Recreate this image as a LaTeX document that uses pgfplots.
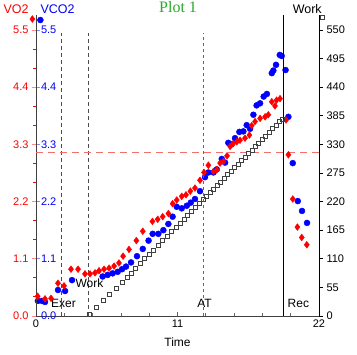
\documentclass[border=0pt]{standalone}
\usepackage{pgfplots}
\pgfplotsset{compat=1.18}
\usepackage{fontspec}
\setmainfont{Liberation Sans}
\newfontfamily\seriffont{Liberation Serif}
\definecolor{atgreen}{RGB}{40,150,20}
\definecolor{titlegreen}{RGB}{40,170,40}
\definecolor{hred}{RGB}{245,110,110}
\begin{document}
\begin{tikzpicture}
\pgfplotsset{
  base/.style={at={(0pt,0pt)}, anchor=south west, x=12.8636pt, xmin=0, xmax=22,
    clip=false, /pgf/number format/assume math mode=true,
    tick label style={font=\fontsize{11}{13}\selectfont},
    major tick length=4pt, minor tick length=3pt,
    legend plot pos=left},
}
% x axis, blue labels, VCO2
\begin{axis}[base, y=52pt, ymin=0, ymax=5.78,
  axis x line=bottom, axis y line=left,
  axis line style={-, draw=black!75, line width=0.7pt},
  xtick={0,11,22}, xticklabels={0,11,22}, minor x tick num=4,
  ytick={0,1.1,2.2,3.3,4.4,5.5}, yticklabels={0.0,1.1,2.2,3.3,4.4,5.5},
  tick align=inside,
  every x tick/.style={black!60, line width=0.6pt},
  every y tick/.style={blue!45, line width=0.8pt},
  yticklabel style={blue, anchor=west, xshift=1.5pt},
  xlabel={Time}, xlabel style={font=\fontsize{12}{14}\selectfont, yshift=-4pt},
  legend image code/.code={\path (0pt,0pt); \draw[#1, overlay] plot coordinates {(2pt,-10pt)};},
  legend style={draw=none, fill=none, at={(0.007,1.018)}, anchor=west, inner sep=0pt,
    font=\fontsize{12.5}{14}\selectfont},
]
\addplot[only marks, mark=*, mark size=3pt, blue] coordinates {
(0.15,0.29)(0.47,0.29)(0.70,0.27)(1.71,0.50)(2.26,0.48)(2.80,0.69)(5.18,0.76)(5.57,0.79)
(5.96,0.82)(6.35,0.85)(6.69,0.90)(7.00,0.95)(7.39,1.03)(7.85,1.15)(8.30,1.29)(8.75,1.45)
(9.07,1.58)(9.51,1.58)(9.90,1.65)(10.29,1.77)(10.62,1.91)(10.94,2.10)(11.33,2.07)(11.72,2.12)
(12.03,2.18)(12.36,2.25)(12.75,2.40)(13.14,2.67)(13.40,2.76)(13.79,2.76)(14.05,2.82)(14.44,3.02)
(14.70,2.95)(14.95,3.33)(15.20,3.30)(15.47,3.42)(15.81,3.54)(16.12,3.55)(16.38,3.67)(16.64,3.60)
(16.90,3.87)(17.15,4.05)(17.42,4.09)(17.70,4.22)(17.95,4.27)(18.33,4.67)(18.45,4.72)(18.66,4.83)
(18.95,5.02)(19.10,5.00)(19.40,4.73)(19.62,3.83)(19.96,2.94)(20.35,2.21)(20.68,2.02)(21.07,1.79)
};
\addlegendentry{\textcolor{blue}{VCO2}}
\end{axis}
% VO2 with red labels
\begin{axis}[base, y=52pt, ymin=0, ymax=5.78,
  axis x line=none, axis y line=left,
  axis line style={-, draw=black!75, line width=0.7pt},
  xtick=\empty,
  ytick={0,1.1,2.2,3.3,4.4,5.5}, yticklabels={0.0,1.1,2.2,3.3,4.4,5.5},
  minor y tick num=2, tick align=outside,
  major tick style={red!45, line width=0.8pt},
  minor tick style={red, line width=0.9pt},
  yticklabel style={red},
  legend image code/.code={\path (0pt,0pt); \draw[#1, overlay] plot coordinates {(31pt,-9pt)};},
  legend style={draw=none, fill=none, at={(-0.1237,1.018)}, anchor=west, inner sep=0pt,
    font=\fontsize{12.5}{14}\selectfont},
]
\addplot[forget plot, black!70, line width=0.9pt, dash pattern=on 4pt off 3pt] coordinates {(2.0,0)(2.0,5.44)};
\addplot[forget plot, black!70, line width=0.9pt, dash pattern=on 4pt off 3pt] coordinates {(4.1,0)(4.1,5.44)};
\addplot[forget plot, atgreen, line width=0.9pt, dash pattern=on 3pt off 3pt] coordinates {(13.0,0)(13.0,5.44)};
\addplot[forget plot, black, line width=0.9pt] coordinates {(19.2,0)(19.2,5.78)};
\addplot[forget plot, hred, line width=1pt, dash pattern=on 7pt off 5pt] coordinates {(0,3.15)(22,3.15)};
\addplot[only marks, mark=diamond*, mark size=3.4pt, red] coordinates {
(0.13,0.38)(0.70,0.33)(1.17,0.34)(1.71,0.63)(2.18,0.58)(2.72,0.90)(3.27,0.90)(3.81,0.81)
(4.20,0.81)(4.59,0.83)(4.90,0.87)(5.29,0.90)(5.68,0.92)(6.07,0.96)(6.45,1.02)(6.77,1.15)
(7.23,1.28)(7.80,1.45)(8.30,1.63)(9.05,1.82)(9.46,1.86)(9.85,1.91)(10.29,1.97)(10.62,2.16)
(10.94,2.23)(11.33,2.30)(11.66,2.33)(12.00,2.40)(12.36,2.46)(12.75,2.61)(13.06,2.76)(13.40,2.90)
(13.79,2.78)(14.05,2.81)(14.31,2.94)(14.57,2.97)(14.85,3.08)(15.09,3.26)(15.34,3.32)(15.61,3.35)
(15.86,3.38)(16.25,3.42)(16.59,3.48)(16.77,3.66)(17.03,3.74)(17.42,3.80)(17.81,3.83)(18.06,3.87)
(18.33,4.12)(18.58,4.04)(18.70,4.15)(18.97,4.18)(19.44,3.77)(19.62,3.10)(19.96,2.25)(20.32,1.71)
(20.66,1.51)(21.05,1.37)
};
\addlegendentry{\textcolor{red}{VO2}}
\node[font=\fontsize{12}{14}\selectfont] at (axis cs:2.14,0.25) {Exer};
\node[font=\fontsize{12}{14}\selectfont] at (axis cs:4.16,0.63) {Work};
\node[font=\fontsize{12}{14}\selectfont] at (axis cs:13.1,0.25) {AT};
\node[font=\fontsize{12}{14}\selectfont] at (axis cs:20.4,0.25) {Rec};
\end{axis}
% Work axis
\begin{axis}[base, y=0.52pt, ymin=0, ymax=578,
  axis x line=none, axis y line=right,
  axis line style={-, draw=black, line width=0.7pt},
  xtick=\empty, ytick={0,55,...,550}, tick align=outside,
  every y tick/.style={black, line width=0.7pt},
  yticklabel style={anchor=west},
  title={Plot 1},
  title style={at={(0.502,1.008)}, anchor=center, font=\seriffont\fontsize{16}{18}\selectfont, text=titlegreen},
  legend image code/.code={\path (0pt,0pt); \draw[#1, overlay] plot coordinates {(32pt,-8pt)};},
  legend style={draw=none, fill=none, at={(0.8975,1.02)}, anchor=west, inner sep=0pt,
    font=\fontsize{12.5}{14}\selectfont},
]
\addplot[only marks, mark=square, mark size=2pt, black!75, line width=0.6pt] coordinates {
(4.12,3)(4.67,16)(5.21,30)(5.68,41)(6.22,54)(6.69,65)(7.08,75)(7.39,83)(7.75,92)(8.10,101)
(8.45,110)(8.80,119)(9.15,127)(9.50,136)(9.85,145)(10.20,154)(10.55,163)(10.90,171)(11.20,179)
(11.50,186)(11.80,194)(12.10,201)(12.40,209)(12.70,216)(13.00,224)(13.27,231)(13.54,238)
(13.81,244)(14.08,251)(14.35,258)(14.62,265)(14.89,272)(15.16,278)(15.43,285)(15.70,292)
(15.97,299)(16.24,306)(16.51,312)(16.78,319)(17.05,326)(17.32,333)(17.59,340)(17.86,346)
(18.13,353)(18.40,360)(18.67,367)(18.94,374)(19.15,379)
};
\addlegendentry{Work}
\end{axis}
\pgfresetboundingbox
\path (-36pt,-39pt) rectangle (321pt,316pt);
\end{tikzpicture}
\end{document}
